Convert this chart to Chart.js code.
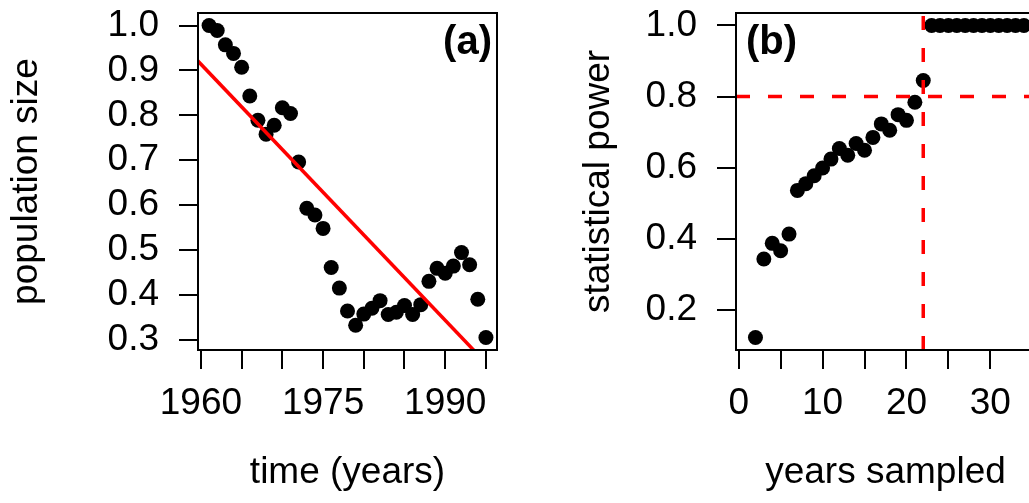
<!DOCTYPE html>
<html lang="en">
<head>
<meta charset="UTF-8">
<title>Population size and statistical power</title>
<script src="https://cdn.jsdelivr.net/npm/chart.js"></script>
<style>
    body {
        margin: 0;
        background: #fff;
        width: 1029px;
        height: 503px;
        overflow: hidden;
        position: relative;
    }
    #panelA { position: absolute; left: 0; top: 0; }
    #panelB { position: absolute; left: 520px; top: 0; }
</style>
</head>
<body>
<canvas id="panelA" width="520" height="503"></canvas>
<canvas id="panelB" width="540" height="503"></canvas>
<script>
// (a) population index per year
const years = [1961, 1962, 1963, 1964, 1965, 1966, 1967, 1968, 1969, 1970,
               1971, 1972, 1973, 1974, 1975, 1976, 1977, 1978, 1979, 1980,
               1981, 1982, 1983, 1984, 1985, 1986, 1987, 1988, 1989, 1990,
               1991, 1992, 1993, 1994, 1995];
const popSize = [1.000, 0.989, 0.957, 0.938, 0.907, 0.843, 0.789, 0.758, 0.778, 0.817,
                 0.804, 0.696, 0.593, 0.578, 0.548, 0.461, 0.415, 0.364, 0.332, 0.357,
                 0.370, 0.387, 0.356, 0.361, 0.376, 0.356, 0.378, 0.430, 0.459, 0.448,
                 0.464, 0.494, 0.467, 0.390, 0.305];
// fitted trend, end points
const trendYears = [1959, 1997];
const trendValues = [0.933, 0.210];
const yearTicks = [1960, 1965, 1970, 1975, 1980, 1985, 1990, 1995];
const yearLabels = [1960, 1975, 1990];
const popTicks = [0.3, 0.4, 0.5, 0.6, 0.7, 0.8, 0.9, 1.0];

// (b) power against number of years sampled
const yearsSampled = [2, 3, 4, 5, 6, 7, 8, 9, 10, 11, 12, 13, 14, 15, 16, 17, 18,
                      19, 20, 21, 22, 23, 24, 25, 26, 27, 28, 29, 30, 31, 32, 33, 34];
const power = [0.122, 0.343, 0.387, 0.366, 0.413, 0.536, 0.555, 0.577, 0.599, 0.624,
               0.654, 0.635, 0.668, 0.649, 0.685, 0.723, 0.705, 0.749, 0.733, 0.784,
               0.845, 1.0, 1.0, 1.0, 1.0, 1.0, 1.0, 1.0, 1.0, 1.0,
               1.0, 1.0, 1.0];
const powerTarget = [0.8];
const yearsNeeded = [22];
const sampledTicks = [0, 5, 10, 15, 20, 25, 30, 35];
const sampledLabels = [0, 10, 20, 30];
const powerTicks = [0.2, 0.4, 0.6, 0.8, 1.0];

const FONT = "'Liberation Sans', Arial, Helvetica, sans-serif";

// frame round the plot region plus the bold panel tag
const framePlugin = {
    id: 'frame',
    afterDatasetsDraw(chart, args, opts) {
        const a = chart.chartArea;
        const ctx = chart.ctx;
        ctx.save();
        ctx.strokeStyle = '#000';
        ctx.lineWidth = 2;
        ctx.strokeRect(a.left, a.top, a.right - a.left, a.bottom - a.top);
        ctx.font = 'bold 40px ' + FONT;
        ctx.fillStyle = '#000';
        ctx.textBaseline = 'alphabetic';
        if (opts.align === 'right') {
            ctx.textAlign = 'right';
            ctx.fillText(opts.text, a.right - 5, a.top + 41);
        } else {
            ctx.textAlign = 'left';
            ctx.fillText(opts.text, a.left + 10, a.top + 41);
        }
        ctx.restore();
    }
};

function axis(min, max, tickVals, fmt, title, titlePad, fitSize, horizontal) {
    return {
        type: 'linear',
        min: min,
        max: max,
        afterBuildTicks: s => { s.ticks = tickVals.map(v => ({ value: v })); },
        afterFit: s => {
            // fixed margins like the R plot; no extra room for label overhang
            if (horizontal) {
                s.height = fitSize;
                s.paddingLeft = 0;
                s.paddingRight = 0;
            } else {
                s.width = fitSize;
                s.paddingTop = 0;
                s.paddingBottom = 0;
            }
        },
        border: { display: false },
        grid: {
            drawOnChartArea: false,
            drawTicks: true,
            tickLength: 19,
            color: '#000',
            lineWidth: 2
        },
        ticks: {
            autoSkip: false,
            maxRotation: 0,
            minRotation: 0,
            padding: horizontal ? 13 : 20,
            color: '#000',
            font: { family: FONT, size: 37 },
            callback: fmt
        },
        title: {
            display: true,
            text: title,
            color: '#000',
            font: { family: FONT, size: 37 },
            padding: titlePad
        }
    };
}

function makeChart(id, datasets, scales, tag, pad) {
    return new Chart(document.getElementById(id), {
        type: 'scatter',
        data: { datasets: datasets },
        options: {
            responsive: false,
            animation: false,
            devicePixelRatio: 1,
            layout: { padding: pad },
            plugins: {
                legend: { display: false },
                tooltip: { enabled: false },
                frame: tag
            },
            scales: scales
        },
        plugins: [framePlugin]
    });
}

const xA = { min: 1959.64, max: 1996.36 };
const yA = { min: 0.277, max: 1.028 };

makeChart('panelA', [
    {
        data: trendYears.map((t, i) => ({ x: t, y: trendValues[i] })),
        showLine: true,
        borderColor: '#ff0000',
        borderWidth: 3.5,
        pointRadius: 0,
        clip: 0
    },
    {
        data: years.map((t, i) => ({ x: t, y: popSize[i] })),
        backgroundColor: '#000',
        pointRadius: 7.5,
        pointBorderWidth: 0
    }
], {
    x: axis(xA.min, xA.max, yearTicks, v => yearLabels.includes(v) ? String(v) : '',
            'time (years)', { top: 0, bottom: 8 }, 153, true),
    y: axis(yA.min, yA.max, popTicks, v => v.toFixed(1),
            'population size', { top: 5, bottom: 0 }, 198, false)
}, { text: '(a)', align: 'right' }, { top: 13, right: 23, bottom: 0, left: 0 });

const xB = { min: -0.32, max: 35.32 };
const yB = { min: 0.087, max: 1.035 };

makeChart('panelB', [
    {
        data: [{ x: xB.min, y: powerTarget[0] }, { x: xB.max, y: powerTarget[0] }],
        showLine: true,
        borderColor: '#ff0000',
        borderWidth: 3.5,
        borderDash: [14, 18],
        pointRadius: 0,
        clip: 0
    },
    {
        data: [{ x: yearsNeeded[0], y: yB.min }, { x: yearsNeeded[0], y: yB.max }],
        showLine: true,
        borderColor: '#ff0000',
        borderWidth: 3.5,
        borderDash: [14, 18],
        pointRadius: 0,
        clip: 0
    },
    {
        data: yearsSampled.map((n, i) => ({ x: n, y: power[i] })),
        backgroundColor: '#000',
        pointRadius: 7.5,
        pointBorderWidth: 0
    }
], {
    x: axis(xB.min, xB.max, sampledTicks, v => sampledLabels.includes(v) ? String(v) : '',
            'years sampled', { top: 0, bottom: 8 }, 153, true),
    y: axis(yB.min, yB.max, powerTicks, v => v.toFixed(1),
            'statistical power', { top: 57, bottom: 0 }, 216, false)
}, { text: '(b)', align: 'left' }, { top: 13, right: 25, bottom: 0, left: 0 });
</script>
</body>
</html>
